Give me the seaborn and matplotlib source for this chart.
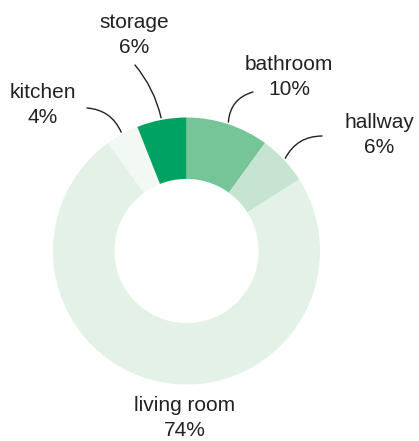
import numpy as np
import matplotlib
matplotlib.use("Agg")
import matplotlib.pyplot as plt
import seaborn as sns

# Share of floor area per room, clockwise from 12 o'clock
rooms = ["bathroom", "hallway", "living room", "kitchen", "storage"]
shares = [10, 6, 74, 4, 6]
colors = ["#76c598", "#c5e4d2", "#e4f1e7", "#f2f8f4", "#00a261"]

sns.set_theme(style="white")
plt.rcParams["font.family"] = ["Liberation Sans", "DejaVu Sans"]

W, H = 419, 441
fig = plt.figure(figsize=(W / 100, H / 100), dpi=100)
ax = fig.add_axes([0, 0, 1, 1])

# donut centre and outer radius, in pixels
cx, cy, R = 186.5, 251.0, 133.5

wedges, _ = ax.pie(shares, colors=colors, startangle=90, counterclock=False,
                   radius=1.0, wedgeprops=dict(width=0.46, linewidth=0),
                   frame=False)
ax.set_xlim(-cx / R, (W - cx) / R)
ax.set_ylim(-(H - cy) / R, cy / R)
ax.set_aspect("auto")
ax.axis("off")


def px(x, y):
    return (x - cx) / R, (cy - y) / R


# label block centres (pixels), leader start (pixels), curvature
label_pos = {
    "storage": (134, 35),
    "kitchen": (43, 105),
    "bathroom": (289, 77),
    "hallway": (379, 135),
    "living room": (185, 418),
}
leaders = {
    "storage": ((135, 65), -0.12),
    "kitchen": ((87, 108), -0.3),
    "bathroom": ((253, 92), 0.35),
    "hallway": ((322, 136), 0.3),
}

cum = np.cumsum([0] + shares)
for name, share, start in zip(rooms, shares, cum[:-1]):
    mid = start + share / 2
    ang = np.deg2rad(90 - mid * 3.6)
    lx, ly = px(*label_pos[name])
    ax.text(lx, ly, f"{name}\n{share}%", ha="center", va="center",
            fontsize=15, color="#222222", linespacing=1.35)
    if name in leaders:
        (sx, sy), rad = leaders[name]
        tip = (1.015 * np.cos(ang), 1.015 * np.sin(ang))
        ax.annotate("", xy=tip, xytext=px(sx, sy),
                    arrowprops=dict(arrowstyle="-", color="#222222", lw=1.0,
                                    shrinkA=0, shrinkB=0,
                                    connectionstyle=f"arc3,rad={rad}"))

fig.savefig("out.png", dpi=100)
